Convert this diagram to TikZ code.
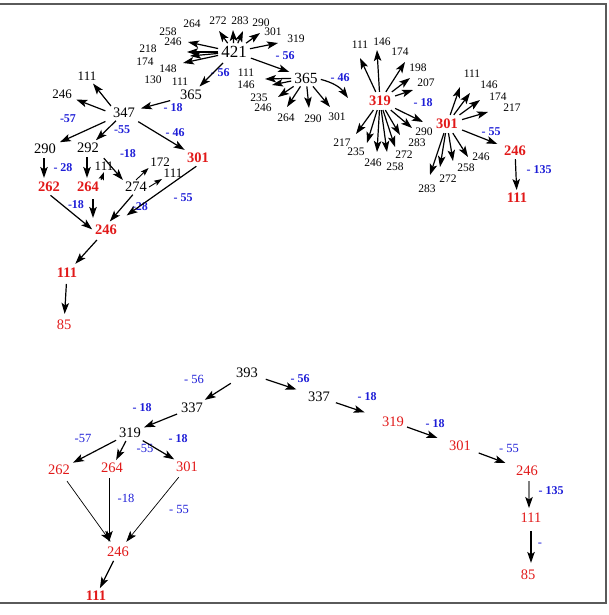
\documentclass[tikz,border=0pt]{standalone}
\usepackage{fontspec}
\setmainfont{Liberation Serif}
\usetikzlibrary{arrows.meta}
\definecolor{myred}{RGB}{225,25,25}
\definecolor{myblue}{RGB}{30,30,215}
\definecolor{frm}{RGB}{90,90,90}
\begin{document}
\begin{tikzpicture}[x=1pt,y=-1pt,
  lf/.style={font=\fontsize{11.5}{11}\selectfont, inner sep=1pt},
  lft/.style={font=\fontsize{13}{12}\selectfont, inner sep=1.5pt},
  md/.style={font=\fontsize{14.5}{14}\selectfont, inner sep=2pt},
  hb/.style={font=\fontsize{17}{16}\selectfont, inner sep=3pt},
  hc/.style={font=\fontsize{15.5}{15}\selectfont, inner sep=3pt},
  rb/.style={text=myred, font=\bfseries\fontsize{14.5}{14}\selectfont, inner sep=2pt},
  rh/.style={text=myred, font=\bfseries\fontsize{14.5}{14}\selectfont, inner sep=4pt},
  rr/.style={text=myred, font=\fontsize{14.5}{14}\selectfont, inner sep=2pt},
  bb/.style={text=myblue, font=\bfseries\fontsize{12}{11}\selectfont, inner sep=1pt},
  br/.style={text=myblue, font=\fontsize{12.5}{12}\selectfont, inner sep=1pt},
  arr/.style={-{Stealth[length=11pt,width=7.5pt,inset=2.5pt]}, line width=1.2pt},
  arrs/.style={-{Stealth[length=8pt,width=5.5pt,inset=1.5pt]}, line width=0.9pt},
  arrt/.style={-{Stealth[length=11pt,width=7.5pt,inset=2.5pt]}, line width=0.7pt},
]
\useasboundingbox (0,0) rectangle (608,615);
\draw[frm, line width=1.6pt] (-3,4) rectangle (606,603);

% ---------- 421 cluster ----------
\node[hb] (n421) at (234,52) {421};
\node[lf] (a258) at (168,32) {258};
\node[lf] (a264) at (192,24) {264};
\node[lf] (a272) at (218,21) {272};
\node[lf] (a283) at (240,21) {283};
\node[lf] (a290) at (261,23) {290};
\node[lf] (a301) at (273,32) {301};
\node[lf] (a319) at (296,39) {319};
\node[lf] (a246) at (173,42) {246};
\node[lf] (a218) at (148,49) {218};
\node[lf] (a174) at (145,62) {174};
\node[lf] (a148) at (168,69) {148};
\node[lf] (a130) at (153,80) {130};
\node[lf] (a111) at (180,82) {111};
\node[md] (m365) at (191,95) {365};
\node[bb] (b56a) at (220,73) {- 56};
\node[bb] (b56b) at (285,56) {- 56};
\coordinate (t1) at (219,31);
\coordinate (t2) at (233,30);
\coordinate (t3) at (243,31);
\coordinate (t4) at (260,33);
\coordinate (t5) at (278,43);
\coordinate (t6) at (188,42);
\coordinate (t7) at (187,52);
\coordinate (t8) at (190,56);
\coordinate (t9) at (183,63);
\foreach \t in {t1,t2,t3,t4,t5,t6,t7,t8,t9} \draw[arr] (n421) -- (\t);
\draw[arr, shorten <=3pt, shorten >=2pt] (n421) -- (m365);

% ---------- right 365 cluster ----------
\node[hc] (r365) at (306,78) {365};
\draw[arr, shorten <=1pt, shorten >=2pt] (n421) -- (r365);
\node[lf] (c111) at (246,73) {111};
\node[lf] (c146) at (246,85) {146};
\node[lf] (c235) at (259,98) {235};
\node[lf] (c246) at (263,108) {246};
\node[lf] (c264) at (286,118) {264};
\node[lf] (c290) at (313,119) {290};
\node[lf] (c301) at (337,117) {301};
\node[bb] (b46) at (340,78) {- 46};
\coordinate (u1) at (265,79);
\coordinate (u2) at (272,85);
\coordinate (u3) at (278,97);
\coordinate (u4) at (287,107);
\coordinate (u5) at (309,108);
\coordinate (u6) at (330,107);
\coordinate (u7) at (348,98);
\foreach \t in {u1,u2,u3,u4,u5,u6} \draw[arr] (r365) -- (\t);
\draw[arr] (r365) to[bend left=20] (u7);

% ---------- 319 cluster ----------
\node[rh] (s319) at (380,101) {319};
\node[lf] (d111) at (360,45) {111};
\node[lf] (d146) at (382,42) {146};
\node[lf] (d174) at (400,52) {174};
\node[lf] (d198) at (418,68) {198};
\node[lf] (d207) at (426,83) {207};
\node[bb] (b18c) at (423,103) {- 18};
\node[lf] (d217) at (342,143) {217};
\node[lf] (d235) at (356,152) {235};
\node[lf] (d246) at (373,163) {246};
\node[lf] (d258) at (395,167) {258};
\node[lf] (d272) at (404,155) {272};
\node[lf] (d283) at (417,143) {283};
\node[lf] (d290) at (424,132) {290};
\coordinate (v1) at (360,58);
\coordinate (v2) at (377,50);
\coordinate (v3) at (405,62);
\coordinate (v4) at (410,78);
\coordinate (v5) at (413,90);
\coordinate (w1) at (356,134);
\coordinate (w2) at (367,143);
\coordinate (w3) at (377,152);
\coordinate (w4) at (387,152);
\coordinate (w5) at (395,147);
\coordinate (w6) at (400,135);
\coordinate (w7) at (412,128);
\coordinate (w8) at (423,122);
\foreach \t in {v1,v2,v3,v4,v5,w1,w2,w3,w4,w5,w6,w7,w8} \draw[arr] (s319) -- (\t);

% ---------- 301 cluster ----------
\node[rh] (t301) at (447,124) {301};
\node[lf] (e111) at (472,74) {111};
\node[lf] (e146) at (489,85) {146};
\node[lf] (e174) at (498,97) {174};
\node[lf] (e217) at (512,108) {217};
\node[bb] (b55c) at (491,132) {- 55};
\node[lf] (e246) at (481,157) {246};
\node[lf] (e258) at (466,168) {258};
\node[lf] (e272) at (448,179) {272};
\node[lf] (e283) at (427,189) {283};
\node[rb] (t246) at (515,151) {246};
\node[bb] (b135) at (539,170) {- 135};
\node[rb] (t111) at (517,198) {111};
\coordinate (x1) at (460,87);
\coordinate (x2) at (470,93);
\coordinate (x3) at (480,100);
\coordinate (x4) at (488,112);
\coordinate (y1) at (430,175);
\coordinate (y2) at (440,167);
\coordinate (y3) at (453,161);
\coordinate (y4) at (468,157);
\foreach \t in {x1,x2,x3,x4,y1,y2,y3,y4} \draw[arr] (t301) -- (\t);
\draw[arr, shorten >=5pt] (t301) -- (t246);
\draw[arr, shorten <=1pt, shorten >=1pt] (t246) -- (t111);

% ---------- left tree ----------
\node[md] (l347) at (124,113) {347};
\node[lft] (l111) at (87,76) {111};
\node[lft] (l246) at (62,94) {246};
\node[bb] (b18a) at (173,108) {- 18};
\node[bb] (b57) at (68,119) {-57};
\node[md] (l290) at (45,149) {290};
\node[md] (l292) at (88,148) {292};
\node[bb] (b55a) at (122,130) {-55};
\node[bb] (b46a) at (175,133) {- 46};
\node[rb] (l301) at (198,158) {301};
\node[bb] (b28a) at (63,168) {- 28};
\node[rb] (l262) at (49,187) {262};
\node[rb] (l264) at (88,187) {264};
\node[lft] (l111b) at (104,166) {111};
\node[bb] (b18b) at (128,154) {-18};
\node[lft] (l172) at (160,162) {172};
\node[md] (l274) at (136,187) {274};
\node[lft] (l111c) at (173,173) {111};
\node[bb] (b18d) at (76,205) {-18};
\node[bb] (b28b) at (140,207) {-28};
\node[bb] (b55b) at (183,198) {- 55};
\node[rb] (l246r) at (106,230) {246};
\node[rb] (l111r) at (67,273) {111};
\node[rr] (l85) at (64,325) {85};
\draw[arr, shorten <=8pt, shorten >=4pt] (m365) -- (l347);
\draw[arr, shorten >=2pt] (l347.north west) -- (l111);
\draw[arr, shorten <=6pt, shorten >=3pt] (l347.west) -- (l246);
\draw[arr, shorten <=6pt, shorten >=2pt] (l347) -- (l290);
\draw[arr, shorten <=1pt, shorten >=1pt] (l347) -- (l292);
\draw[arr, shorten <=3pt, shorten >=2pt] (l347) -- (l301);
\draw[arr, shorten <=2pt, shorten >=2pt] ([xshift=-1pt]l290.south) -- ([xshift=-1pt]l290.south |- l262.north);
\draw[arr, shorten <=2pt, shorten >=2pt] ([xshift=-1pt]l292.south) -- ([xshift=-1pt]l292.south |- l264.north);
\draw[arrs] (l264.north east) -- (l111b.south);
\draw[arr, shorten <=4pt] (l292.south east) -- (l274.north west);
\draw[arrs] (l274.north) -- (l172.south west);
\draw[arrs] (l274.east) -- (l111c.south west);
\draw[arr, shorten <=5pt, shorten >=5pt] ([xshift=5pt]l264.south) -- ([xshift=5pt]l264.south |- l246r.north);
\draw[arr, shorten <=1pt, shorten >=2pt] (l274.250) -- (l246r.70);
\draw[arr, shorten <=2pt, shorten >=13pt] (l301.south) -- (l246r);
\draw[arr, shorten <=2pt, shorten >=1pt] (l262.south) -- (l246r.west);
\draw[arr, shorten <=4pt, shorten >=3pt] (l246r) -- (l111r);
\draw[arr, shorten <=4pt, shorten >=4pt] (l111r) -- (l85);

% ---------- bottom tree ----------
\node[md] (g393) at (247,373) {393};
\node[br] (b56g) at (194,379) {- 56};
\node[md] (g337) at (192,408) {337};
\node[bb] (b18g) at (142,408) {- 18};
\node[md] (g319) at (130,433) {319};
\node[br] (b57g) at (83,438) {-57};
\node[rr] (g262) at (59,470) {262};
\node[br] (b55g) at (145,448) {-55};
\node[rr] (g264) at (112,468) {264};
\node[bb] (b18h) at (178,439) {- 18};
\node[rr] (g301) at (187,467) {301};
\node[br] (b18i) at (126,498) {-18};
\node[br] (b55h) at (179,509) {- 55};
\node[rr] (g246) at (118,552) {246};
\node[rb] (g111) at (96,596) {111};
\draw[arr, shorten <=6pt, shorten >=2pt] (g393) -- (g337);
\draw[arr, shorten <=2pt, shorten >=1pt] (g337) -- (g319);
\draw[arr, shorten <=1pt, shorten >=1pt] (g319) -- (g262);
\draw[arr, shorten <=1pt, shorten >=1pt] (g319) -- (g264);
\draw[arr, shorten <=1pt, shorten >=1pt] (g319) -- (g301);
\draw[arrt, shorten <=5pt, shorten >=4pt] (g262) -- (g246);
\draw[arrt, shorten <=3pt, shorten >=3pt] ([xshift=-3pt]g264.south) -- ([xshift=-3pt]g264.south |- g246.north);
\draw[arrt, shorten <=4pt, shorten >=4pt] (g301) -- (g246);
\draw[arr, shorten <=2pt, shorten >=1pt] (g246) -- (g111);

\node[md] (h337) at (319,397) {337};
\node[bb] (b56h) at (300,379) {- 56};
\node[bb] (b18j) at (367,397) {- 18};
\node[rr] (h319) at (393,422) {319};
\node[bb] (b18k) at (435,424) {- 18};
\node[rr] (h301) at (460,446) {301};
\node[br] (b55i) at (509,448) {- 55};
\node[rr] (h246) at (527,471) {246};
\node[bb] (b135h) at (551,491) {- 135};
\node[rr] (h111) at (531,518) {111};
\node[br] (bdash) at (540,545) {-};
\node[rr] (h85) at (528,575) {85};
\draw[arr, shorten <=6pt, shorten >=10pt] (g393) -- (h337);
\draw[arr, shorten <=4pt, shorten >=16pt] (h337) -- (h319);
\draw[arr, shorten <=1pt, shorten >=10pt] (h319) -- (h301);
\draw[arr, shorten <=6pt, shorten >=9pt] (h301) -- (h246);
\draw[arr, draw=gray, -{Stealth[length=11pt,width=7.5pt,inset=2.5pt,black]}, shorten <=3pt, shorten >=3pt] ([xshift=2pt]h246.south) -- ([xshift=2pt]h246.south |- h111.north);
\draw[arr, shorten <=6pt, shorten >=5pt] (h111.south) -- (h111.south |- h85.north);
\end{tikzpicture}
\end{document}
